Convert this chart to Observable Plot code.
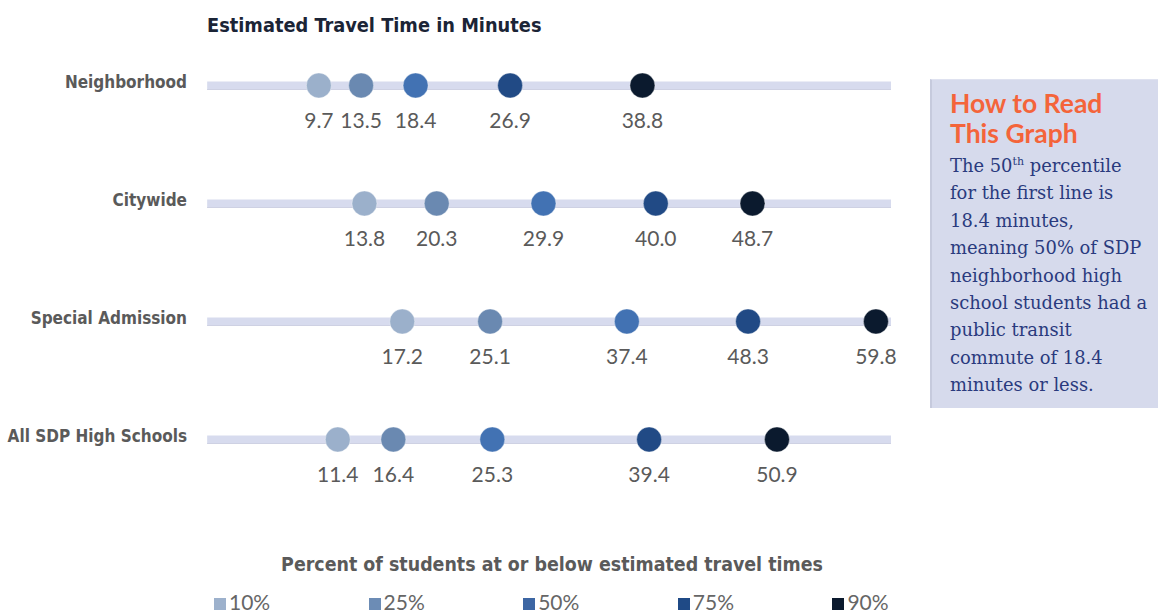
<!DOCTYPE html>
<html>
<head>
<meta charset="utf-8">
<script src="https://cdn.jsdelivr.net/npm/d3@7"></script>
<script src="https://cdn.jsdelivr.net/npm/@observablehq/plot@0.6"></script>
<style>
  html, body { margin: 0; padding: 0; background: #ffffff; }
  #wrap { position: relative; width: 1158px; height: 616px; overflow: hidden; background: #fff; }
  #chart { position: absolute; left: 0; top: 0; }
  .title { position: absolute; left: 207px; top: 14px; font-family: "DejaVu Sans Condensed", "DejaVu Sans", sans-serif; font-weight: bold; font-size: 19.8px; color: #1b2436; white-space: nowrap; }
  .legend-title { position: absolute; left: 252px; width: 600px; top: 553px; text-align: center; font-family: "DejaVu Sans Condensed", "DejaVu Sans", sans-serif; font-weight: bold; font-size: 19.4px; color: #5a5a5a; white-space: nowrap; }
  .legend { position: absolute; left: 214px; top: 590px; height: 24px; }
  .legend .item { position: absolute; top: 0; display: flex; align-items: center; font-family: Lato, sans-serif; font-size: 21px; line-height: 24px; color: #666; white-space: nowrap; }
  .legend .sw { width: 12px; height: 12px; margin-right: 3px; margin-top: 3px; }
  .box { position: absolute; left: 930px; top: 79px; width: 240px; height: 329px; background: #d6daec; border-left: 2px solid #c6cadd; border-top: 1px solid #dfe2f0; box-sizing: border-box; }
  .box .h { position: absolute; left: 18px; top: 8px; font-family: Lato, sans-serif; font-weight: bold; font-size: 26.5px; line-height: 30px; color: #f4643a; white-space: nowrap; }
  .box .b { position: absolute; left: 18px; top: 72px; font-family: "DejaVu Serif", serif; font-size: 17.9px; line-height: 27.4px; color: #2a3a7e; white-space: nowrap; }
  .box sup { font-size: 11px; vertical-align: 7px; line-height: 0; }
</style>
</head>
<body>
<div id="wrap">
  <div id="chart"></div>
  <div class="title" id="title"></div>
  <div class="box">
    <div class="h">How to Read<br>This Graph</div>
    <div class="b">The 50<sup>th</sup> percentile<br>for the first line is<br>18.4 minutes,<br>meaning 50% of SDP<br>neighborhood high<br>school students had a<br>public transit<br>commute of 18.4<br>minutes or less.</div>
  </div>
  <div class="legend-title" id="legendTitle"></div>
  <div class="legend" id="legend"></div>
</div>
<script>
// ---- data ----
const chartTitle = "Estimated Travel Time in Minutes";
const legendTitle = "Percent of students at or below estimated travel times";
const categories = ["Neighborhood", "Citywide", "Special Admission", "All SDP High Schools"];
const percentiles = ["10%", "25%", "50%", "75%", "90%"];
const neighborhood = [9.7, 13.5, 18.4, 26.9, 38.8];
const citywide = [13.8, 20.3, 29.9, 40.0, 48.7];
const specialAdmission = [17.2, 25.1, 37.4, 48.3, 59.8];
const allSDP = [11.4, 16.4, 25.3, 39.4, 50.9];

// ---- styles ----
const dotColors = ["#9bb0cb", "#6a89b1", "#4272b3", "#214a85", "#0b1a2e"];
const legendColors = ["#9db1cc", "#6c8cb5", "#3d66a3", "#1f4a86", "#0b1a2e"];

const seriesValues = [neighborhood, citywide, specialAdmission, allSDP];
const rows = [];
categories.forEach((c, i) => {
  seriesValues[i].forEach((v, j) => rows.push({group: c, pct: percentiles[j], minutes: v}));
});

const plot = Plot.plot({
  width: 1158,
  height: 540,
  marginLeft: 210.5,
  marginRight: 267,
  marginTop: 0,
  marginBottom: 0,
  style: {fontFamily: "Lato, sans-serif", background: "transparent"},
  x: {domain: [0, 61.2], axis: null},
  y: {type: "point", domain: categories, range: [84, 440], padding: 0, axis: null},
  color: {domain: percentiles, range: dotColors},
  marks: [
    Plot.ruleY(categories, {y: d => d, x1: -0.3, x2: 61.2, stroke: "#c4c7d8", strokeWidth: 1, dy: 4}),
    Plot.ruleY(categories, {y: d => d, x1: -0.3, x2: 61.2, stroke: "#d7dbee", strokeWidth: 8}),
    Plot.dot(rows, {x: "minutes", y: "group", fill: "pct", r: 12.5, stroke: "#ffffff", strokeOpacity: 0.5, strokeWidth: 0.8}),
    Plot.text(rows, {x: "minutes", y: "group", text: d => d.minutes.toFixed(1), dy: 36, fontSize: 21, fill: "#5a5a5a", fontFamily: "Lato, sans-serif"}),
    Plot.text(categories, {y: d => d, text: d => d, frameAnchor: "left", textAnchor: "end", dx: -24, dy: -3, fontSize: 17, fontWeight: "bold", fill: "#5a5a5a", fontFamily: "DejaVu Sans Condensed, DejaVu Sans, sans-serif"})
  ]
});
document.getElementById("chart").appendChild(plot);
document.getElementById("title").textContent = chartTitle;
document.getElementById("legendTitle").textContent = legendTitle;

const leg = d3.select("#legend");
percentiles.forEach((p, i) => {
  const it = leg.append("div").attr("class", "item").style("left", (i * 154.6) + "px");
  it.append("div").attr("class", "sw").style("background", legendColors[i]);
  it.append("span").text(p);
});
</script>
</body>
</html>
